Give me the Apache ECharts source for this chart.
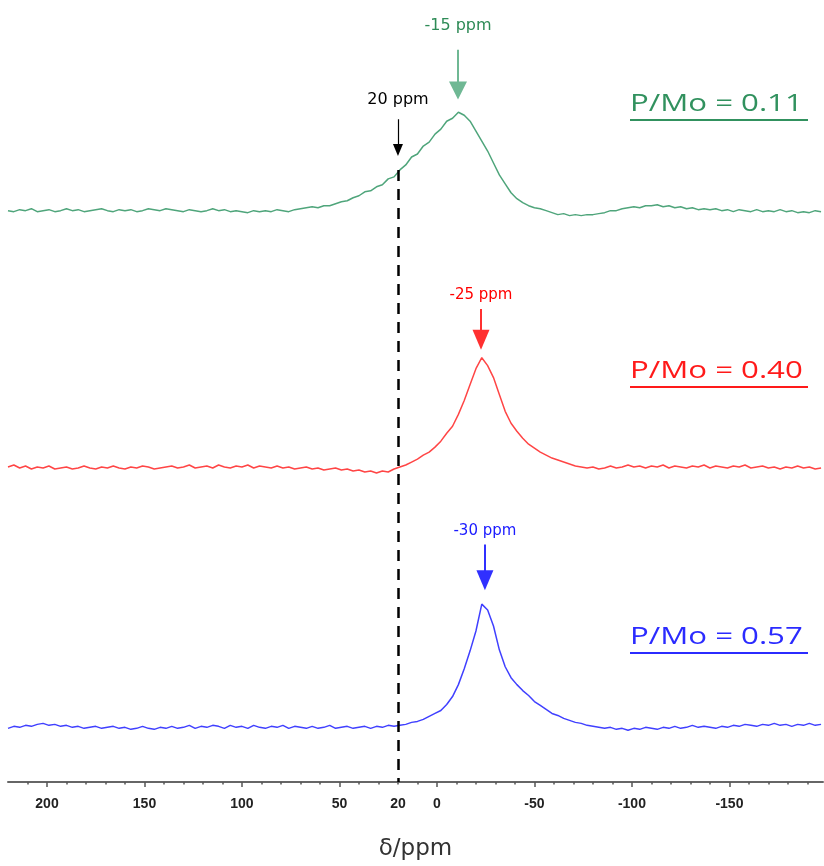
<!DOCTYPE html>
<html>
<head>
<meta charset="utf-8">
<script src="https://cdn.jsdelivr.net/npm/echarts@6/dist/echarts.min.js"></script>
<style>html,body{margin:0;padding:0;background:#fff;}#chart{width:824px;height:866px;}</style>
</head>
<body>
<div id="chart"></div>
<script>
// Chemical shift grid (ppm), shared by all three spectra
const ppm = [
  220,217,214,211,208,205,202,199,196,193,
  190,187,184,181,178,175,172,169,166,163,
  160,157,154,151,148,145,142,139,136,133,
  130,127,124,121,118,115,112,109,106,103,
  100,97,94,91,88,85,82,79,76,73,
  70,67,64,61,58,55,52,49,46,43,
  40,37,34,31,28,25,22,19,16,13,
  10,7,4,1,-2,-5,-8,-11,-14,-17,
  -20,-23,-26,-29,-32,-35,-38,-41,-44,-47,
  -50,-53,-56,-59,-62,-65,-68,-71,-74,-77,
  -80,-83,-86,-89,-92,-95,-98,-101,-104,-107,
  -110,-113,-116,-119,-122,-125,-128,-131,-134,-137,
  -140,-143,-146,-149,-152,-155,-158,-161,-164,-167,
  -170,-173,-176,-179,-182,-185,-188,-191,-194,-197
];
// Intensities (arbitrary units above each baseline)
const green011 = [
  1,0,2,1,3,0,1,2,0,1,
  3,1,2,0,1,2,3,1,0,2,
  1,2,0,1,3,2,1,3,2,1,
  0,2,1,0,1,3,1,2,0,1,
  0,-1,1,0,1,0,2,1,0,2,
  3,4,5,4,6,6,8,10,11,14,
  16,20,21,25,27,33,35,42,47,55,
  58,66,70,78,83,91,94,100,97,91,
  81,71,61,49,37,28,19,13,9,6,
  4,3,1,-1,-3,-2,-4,-3,-4,-3,
  -3,-2,-1,1,1,3,4,5,4,6,
  6,7,5,6,4,5,3,4,2,3,
  2,3,1,2,0,2,1,0,2,0,
  1,0,2,0,1,-1,0,-1,1,0
];
const red040 = [
  1,3,0,2,-1,1,0,2,-1,0,
  1,-1,0,2,0,-1,1,0,2,0,
  -1,1,0,2,1,-1,0,1,2,0,
  1,3,0,1,2,0,3,1,0,2,
  1,3,0,2,1,0,2,0,1,-1,
  0,1,-1,0,-2,-1,0,-2,-1,-3,
  -2,-4,-3,-5,-3,-4,-1,1,3,6,
  9,13,16,21,27,35,42,54,68,84,
  100,111,103,91,74,57,45,37,30,24,
  20,16,13,10,8,6,4,2,1,0,
  1,-1,0,2,0,1,3,1,2,0,
  2,1,3,0,2,1,0,2,1,3,
  0,2,1,0,2,1,3,0,1,2,
  0,1,-1,1,0,2,0,1,-1,0
];
const blue057 = [
  0,2,1,3,2,4,5,3,4,2,
  3,1,2,0,1,2,0,1,2,0,
  1,-1,0,2,0,-1,1,0,2,0,
  1,3,0,2,1,3,2,0,3,1,
  2,0,3,1,0,2,1,3,0,2,
  1,0,2,0,1,3,0,1,2,0,
  1,2,0,2,1,3,2,3,4,6,
  7,9,12,15,18,24,32,44,60,78,
  98,125,119,103,79,62,51,44,38,33,
  27,23,19,15,13,10,8,6,5,3,
  2,1,0,1,-1,0,-2,0,-1,1,
  0,-1,1,0,2,0,1,3,1,2,
  1,0,2,1,3,2,4,3,2,4,
  3,5,3,4,2,4,3,5,3,4
];
// Vertical stacking offsets of the three spectra
const offsetGreen = 574, offsetRed = 316, offsetBlue = 54;
// Axis ticks / labels
const majorTicks = [200,150,100,50,0,-50,-100,-150];
const tickLabels = [200,150,100,50,20,0,-50,-100,-150];
const minorTicks = [210,200,190,180,170,160,150,140,130,120,110,100,90,80,70,60,50,40,30,20,10,0,-10,-20,-30,-40,-50,-60,-70,-80,-90,-100,-110,-120,-130,-140,-150,-160,-170,-180,-190];
// Annotated shifts
const refShift = 20;
const peakGreen = -10.8, peakRed = -22.6, peakBlue = -24.6;

function toSeries(vals, off){ return ppm.map((p,i)=>[p, off + vals[i]]); }
function valueAt(vals, p){ // read intensity at nearest grid point
  let best=0; for(let i=0;i<ppm.length;i++){ if(Math.abs(ppm[i]-p)<Math.abs(ppm[best]-p)) best=i; } return vals[best];
}

const cGreen='#4fa57b', cGreenT='#31915e', cRed='#ff4545', cRedT='#ff1a1a', cBlue='#4040ff', cBlueT='#2b2bff';

function arrow(x, y0, y1, text, color, headColor, hw, hh, lw, dist, fs){
  return [
    {coord:[x,y0], symbol:'none', lineStyle:{color:color,width:lw,type:'solid'},
     label:{show:true, position:'start', formatter:text, color:headColor, fontSize:fs, fontFamily:'DejaVu Sans', distance:dist}},
    {coord:[x,y1], symbol:'triangle', symbolSize:[hw,hh], itemStyle:{color:headColor}}
  ];
}

const chart = echarts.init(document.getElementById('chart'));
chart.setOption({
  animation:false,
  backgroundColor:'#fff',
  grid:{left:8,right:1,top:0,bottom:79},
  xAxis:[{
    type:'value', min:-198, max:220, inverse:true,
    axisLine:{lineStyle:{color:'#666',width:2}},
    axisTick:{customValues:majorTicks, length:5, lineStyle:{color:'#555',width:1.5}},
    axisLabel:{customValues:tickLabels, color:'#222', fontSize:14, fontWeight:'bold', fontFamily:'Liberation Sans Narrow, Liberation Sans', margin:15},
    splitLine:{show:false},
    name:'δ/ppm', nameLocation:'middle', nameGap:56,
    nameTextStyle:{fontSize:23, color:'#333', fontFamily:'DejaVu Sans'}
  },{
    type:'value', min:-198, max:220, inverse:true, position:'bottom',
    axisLine:{show:false}, axisLabel:{show:false}, splitLine:{show:false},
    axisTick:{customValues:minorTicks, length:2.5, lineStyle:{color:'#555',width:1.5}}
  }],
  yAxis:{type:'value', min:0, max:787, show:false},
  series:[
    {type:'line', name:'P/Mo = 0.11', data:toSeries(green011, offsetGreen), showSymbol:false,
     lineStyle:{color:cGreen,width:1.5}, itemStyle:{color:cGreen}, z:3,
     markLine:{silent:true, animation:false, symbol:['none','triangle'], data:[
       [{coord:[refShift, offsetGreen+valueAt(green011, refShift)], symbol:'none', lineStyle:{color:'#000',width:2.5,type:[11,8]}, label:{show:false}},
        {coord:[refShift, 0], symbol:'none'}],
       arrow(refShift, 667, 636, '20 ppm', '#000', '#000', 10, 12, 1.2, 11, 16),
       arrow(peakGreen, 737, 696, '-15 ppm', '#6fb894', '#2e8b57', 18, 18, 2, 16, 16)
     ]}},
    {type:'line', name:'P/Mo = 0.40', data:toSeries(red040, offsetRed), showSymbol:false,
     lineStyle:{color:cRed,width:1.5}, itemStyle:{color:cRed}, z:3,
     markLine:{silent:true, animation:false, symbol:['none','triangle'], data:[
       arrow(peakRed, 476, 445, '-25 ppm', '#ff3030', '#ff0000', 17, 20, 2, 6, 15)
     ]}},
    {type:'line', name:'P/Mo = 0.57', data:toSeries(blue057, offsetBlue), showSymbol:false,
     lineStyle:{color:cBlue,width:1.5}, itemStyle:{color:cBlue}, z:3,
     markLine:{silent:true, animation:false, symbol:['none','triangle'], data:[
       arrow(peakBlue, 239, 203, '-30 ppm', '#3030ff', '#1a1aff', 17, 20, 2, 6, 15)
     ]}}
  ],
  graphic:[
    {type:'text', x:630, y:104, scaleX:1.3, style:{text:'P/Mo = 0.11', fontSize:24, fontFamily:'Open Sans', fill:cGreenT, verticalAlign:'middle', align:'left'}},
    {type:'rect', shape:{x:630,y:119,width:178,height:2}, style:{fill:cGreenT}},
    {type:'text', x:630, y:371, scaleX:1.3, style:{text:'P/Mo = 0.40', fontSize:24, fontFamily:'Open Sans', fill:cRedT, verticalAlign:'middle', align:'left'}},
    {type:'rect', shape:{x:630,y:386,width:178,height:2}, style:{fill:cRedT}},
    {type:'text', x:630, y:637, scaleX:1.3, style:{text:'P/Mo = 0.57', fontSize:24, fontFamily:'Open Sans', fill:cBlueT, verticalAlign:'middle', align:'left'}},
    {type:'rect', shape:{x:630,y:652,width:178,height:2}, style:{fill:cBlueT}}
  ]
});
</script>
</body>
</html>
